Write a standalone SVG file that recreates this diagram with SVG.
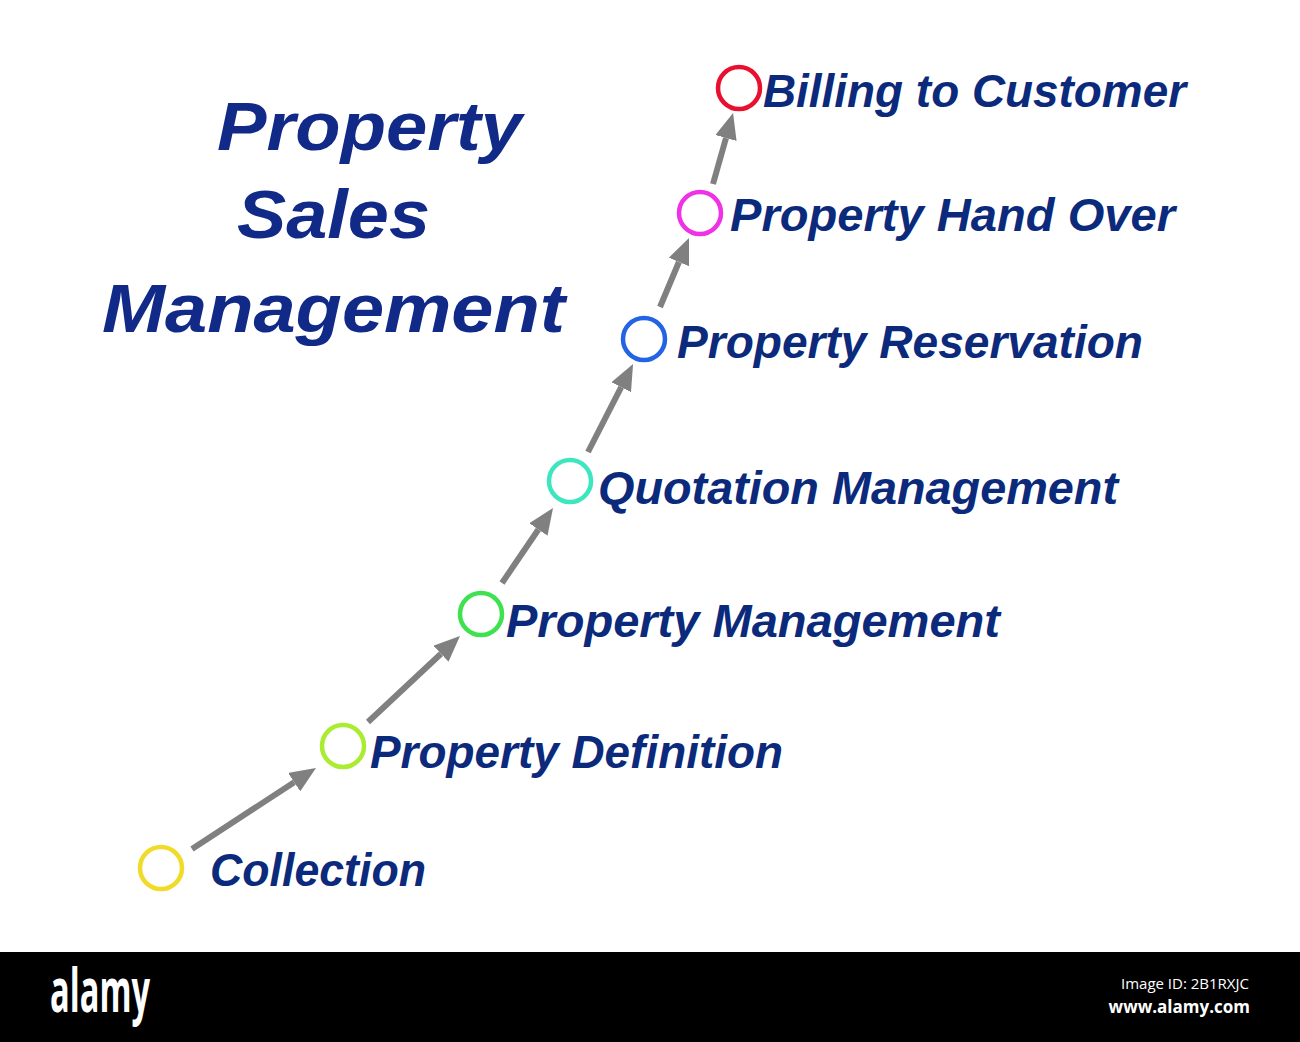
<svg xmlns="http://www.w3.org/2000/svg" width="1300" height="1042" viewBox="0 0 1300 1042">
<style>
.title{font-family:"Liberation Sans",Arial,sans-serif;font-weight:bold;font-style:italic;font-size:68px;fill:#112a88}
.lbl{font-family:"Liberation Sans",Arial,sans-serif;font-weight:bold;font-style:italic;font-size:46.5px;fill:#0c2a7c}
.ring{fill:none;stroke-width:4.5}
.conn{stroke:#808080;stroke-width:6;fill:none}
.wm{font-family:"Open Sans","DejaVu Sans",sans-serif;fill:#ffffff}
</style>
<defs>
<marker id="ah" viewBox="0 0 26 22" refX="0" refY="11" markerWidth="26" markerHeight="22" markerUnits="userSpaceOnUse" orient="auto">
<path d="M0,0 L26,11 L0,22 z" fill="#808080"/>
</marker>
</defs>
<rect x="0" y="0" width="1300" height="1042" fill="#ffffff"/>
<g id="title">
<text class="title" x="217" y="150" textLength="305" lengthAdjust="spacingAndGlyphs">Property</text>
<text class="title" x="237" y="238" textLength="193" lengthAdjust="spacingAndGlyphs">Sales</text>
<text class="title" x="102" y="332" textLength="463" lengthAdjust="spacingAndGlyphs">Management</text>
</g>
<g id="connectors">
<line class="conn" x1="192" y1="849" x2="294.2" y2="782.2" marker-end="url(#ah)"/>
<line class="conn" x1="368" y1="722" x2="441" y2="653.8" marker-end="url(#ah)"/>
<line class="conn" x1="502" y1="583" x2="538.4" y2="529.5" marker-end="url(#ah)"/>
<line class="conn" x1="588" y1="452" x2="621.2" y2="387.2" marker-end="url(#ah)"/>
<line class="conn" x1="660" y1="307" x2="678.9" y2="262" marker-end="url(#ah)"/>
<line class="conn" x1="713" y1="184" x2="726" y2="138" marker-end="url(#ah)"/>
</g>
<g id="n-collection">
<circle class="ring" cx="161" cy="868" r="21" stroke="#f0dc28"/>
<text class="lbl" x="210" y="886" textLength="216" lengthAdjust="spacingAndGlyphs">Collection</text>
</g>
<g id="n-definition">
<circle class="ring" cx="343" cy="746" r="21" stroke="#aaec30"/>
<text class="lbl" x="370" y="768" textLength="413" lengthAdjust="spacingAndGlyphs">Property Definition</text>
</g>
<g id="n-propmgmt">
<circle class="ring" cx="481" cy="614" r="21" stroke="#3ee24e"/>
<text class="lbl" x="506" y="637" textLength="494" lengthAdjust="spacingAndGlyphs">Property Management</text>
</g>
<g id="n-quotation">
<circle class="ring" cx="570" cy="481" r="21" stroke="#3ee6c0"/>
<text class="lbl" x="598" y="504" textLength="520" lengthAdjust="spacingAndGlyphs">Quotation Management</text>
</g>
<g id="n-reservation">
<circle class="ring" cx="644" cy="339" r="21" stroke="#2264e4"/>
<text class="lbl" x="677" y="358" textLength="466" lengthAdjust="spacingAndGlyphs">Property Reservation</text>
</g>
<g id="n-handover">
<circle class="ring" cx="700" cy="213" r="21" stroke="#f032e6"/>
<text class="lbl" x="730" y="231" textLength="445" lengthAdjust="spacingAndGlyphs">Property Hand Over</text>
</g>
<g id="n-billing">
<circle class="ring" cx="739" cy="88" r="21" stroke="#e8102e"/>
<text class="lbl" x="763" y="107" textLength="423" lengthAdjust="spacingAndGlyphs">Billing to Customer</text>
</g>
<g id="watermark">
<rect x="0" y="952" width="1300" height="90" fill="#000000"/>
<text class="wm" x="50" y="1012" font-size="60" font-weight="bold" textLength="100" lengthAdjust="spacingAndGlyphs">alamy</text>
<text class="wm" x="1249" y="989" font-size="15" text-anchor="end">Image ID: 2B1RXJC</text>
<text class="wm" x="1250" y="1013" font-size="17" font-weight="bold" text-anchor="end">www.alamy.com</text>
</g>
</svg>
